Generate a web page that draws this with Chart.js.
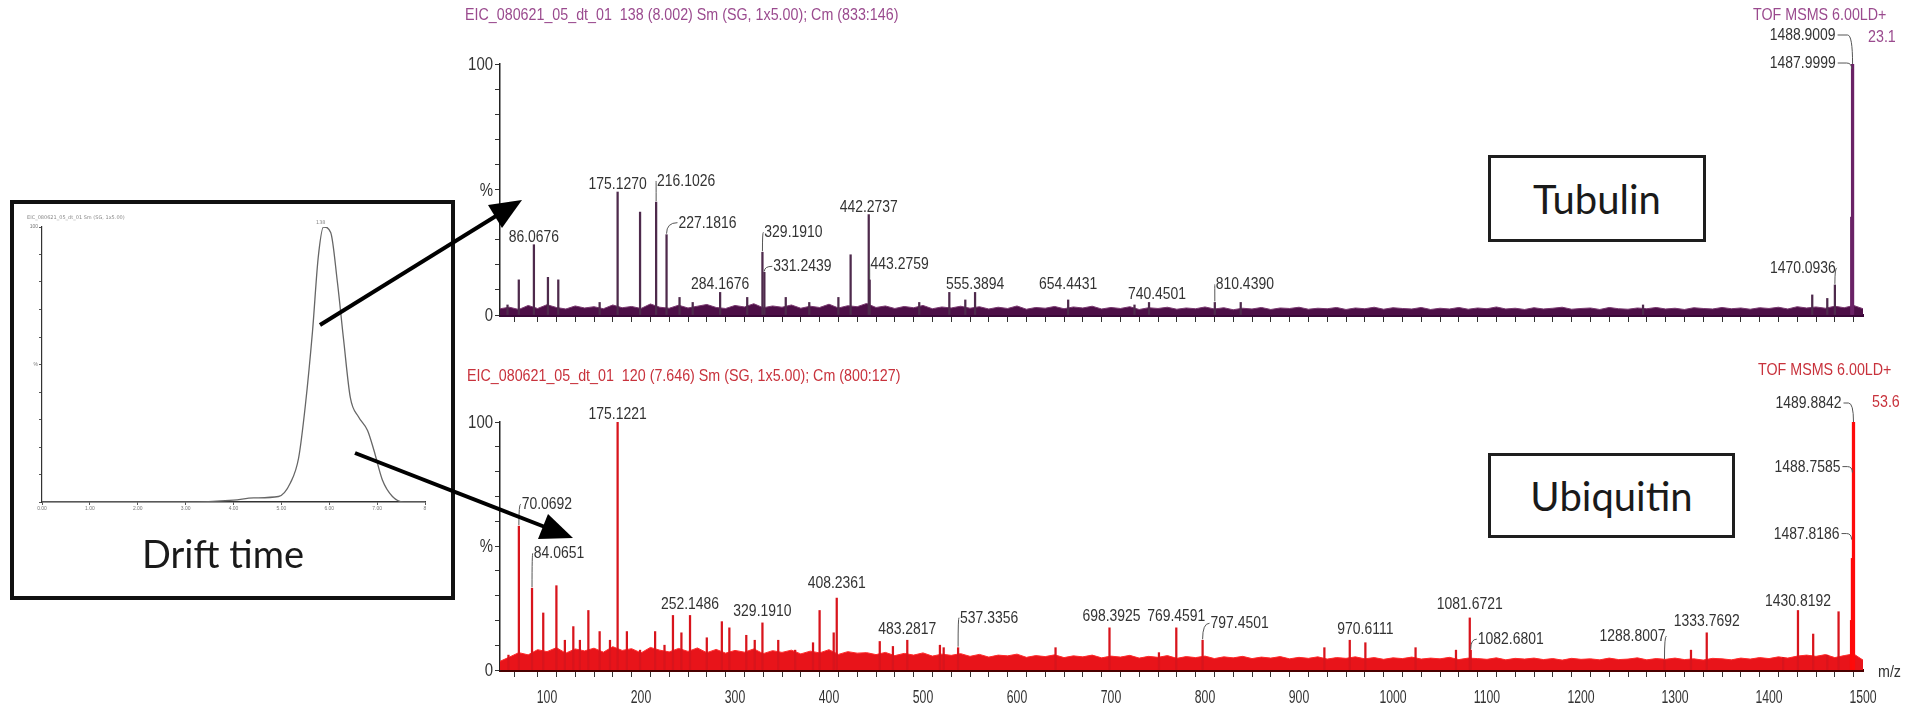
<!DOCTYPE html>
<html><head><meta charset="utf-8">
<script src="https://cdn.jsdelivr.net/npm/chart.js@4.4.0/dist/chart.umd.min.js"></script>
<style>
html,body{margin:0;padding:0;background:#fff;}
#stage{position:relative;width:1923px;height:711px;overflow:hidden;background:#fff;}
.abs{position:absolute;}
.narrow{position:absolute;font-family:'Liberation Sans',Arial,sans-serif;font-size:17px;line-height:20px;white-space:nowrap;transform:scaleX(0.84);transform-origin:0 0;}
.box{position:absolute;box-sizing:border-box;border:3px solid #1e1e1e;background:#fff;display:flex;align-items:center;justify-content:center;font-family:Lato,'Open Sans',sans-serif;font-size:40px;color:#1a1a1a;}
.tiny{position:absolute;font-family:'DejaVu Sans',sans-serif;font-size:5px;color:#888;white-space:nowrap;}
</style></head>
<body><div id="stage">
<canvas id="topChart" class="abs" style="left:0;top:0" width="1923" height="345"></canvas>
<canvas id="botChart" class="abs" style="left:0;top:345px" width="1923" height="366"></canvas>

<div class="narrow" style="left:465px;top:5px;color:#9a4a8e">EIC_080621_05_dt_01&nbsp; 138 (8.002) Sm (SG, 1x5.00); Cm (833:146)</div>
<div class="narrow" style="left:1753px;top:5px;color:#9a4a8e">TOF MSMS 6.00LD+</div>
<div class="narrow" style="left:1868px;top:27px;color:#9a4a8e">23.1</div>
<div class="narrow" style="left:467px;top:366px;color:#c8323c">EIC_080621_05_dt_01&nbsp; 120 (7.646) Sm (SG, 1x5.00); Cm (800:127)</div>
<div class="narrow" style="left:1758px;top:360px;color:#c8323c">TOF MSMS 6.00LD+</div>
<div class="narrow" style="left:1872px;top:392px;color:#c8323c">53.6</div>
<div class="narrow" style="left:1878px;top:662px;color:#333">m/z</div>

<div class="box" style="left:1488px;top:155px;width:218px;height:87px;">Tubulin</div>
<div class="box" style="left:1488px;top:453px;width:247px;height:85px;">Ubiquitin</div>

<div class="box" style="left:10px;top:200px;width:445px;height:400px;border-width:4px;border-color:#111;display:block;"></div>
<canvas id="insetChart" class="abs" style="left:14px;top:204px" width="437" height="310"></canvas>
<div class="tiny" style="left:27px;top:214px">EIC_080621_05_dt_01 Sm (SG, 1x5.00)</div>
<div class="tiny" style="left:316px;top:219px">138</div>
<div class="abs" style="left:0;top:533px;width:446px;text-align:center;font-family:Lato,'Open Sans',sans-serif;font-size:38px;color:#1a1a1a;line-height:40px;">Drift time</div>

<svg class="abs" style="left:0;top:0;pointer-events:none" width="1923" height="711">
  <line x1="320" y1="325" x2="496" y2="216" stroke="#000" stroke-width="4"/>
  <polygon points="522,200 502,228 488,205" fill="#000"/>
  <line x1="355" y1="453" x2="545" y2="527" stroke="#000" stroke-width="4"/>
  <polygon points="573,538 538,539 548,514" fill="#000"/>
</svg>
</div>
<script>
// ---------- data ----------
const mzMin = 50, mzMax = 1500;

// Tubulin (top) - labelled fragment peaks
const tubulinLabeledMz  = [86.0676,175.1270,216.1026,227.1816,284.1676,329.1910,331.2439,442.2737,443.2759,555.3894,654.4431,740.4501,810.4390,1470.0936];
const tubulinLabeledInt = [28,49,45,32,9,25,17,40,14,9,6,5,5,12];
// Tubulin unlabelled peaks
const tubulinMinorMz  = [58,70,101,112,156,199,241,255,313,354,379,410,423,496,528,545,725,838,1266,1446,1462];
const tubulinMinorInt = [4,14,15,14,5,41,7,5,7,7,5,7,24,5,9,6,4,5,4,8,6.6];
// Tubulin precursor cluster
const tubulinPrecMz  = [1487.9999,1488.9009];
const tubulinPrecInt = [39,100];
// Tubulin baseline noise, one value every 10 m/z from 50 to 1500
const tubulinNoise = [
 2.5,3.1,2.2,3.8,2.6,4.1,3.0,2.4,3.6,2.8,
 3.3,2.5,4.0,2.9,3.4,2.6,4.4,3.1,2.7,3.9,
 2.8,3.5,4.2,3.0,2.6,3.8,3.2,4.5,2.9,3.6,
 3.1,4.0,2.7,3.5,3.0,4.3,2.8,3.7,3.3,4.6,
 3.0,3.6,2.6,3.4,2.9,3.8,2.5,3.2,2.8,3.5,
 2.7,3.3,2.4,3.1,2.6,3.6,2.3,3.0,2.7,3.4,
 2.5,3.2,2.8,3.5,2.4,3.0,2.6,3.3,2.2,2.9,
 2.6,3.1,2.3,2.8,2.5,3.2,2.4,2.9,2.1,2.7,
 2.4,3.0,2.2,2.8,2.6,3.1,2.3,2.7,2.5,3.0,
 2.2,2.8,2.5,3.1,2.3,2.9,2.6,2.4,3.0,2.2,
 2.7,2.4,3.0,2.3,2.8,2.5,3.2,2.4,2.7,2.2,
 2.9,2.4,2.7,3.1,2.3,2.6,2.8,2.2,3.0,2.5,
 2.3,2.8,2.5,3.0,2.4,2.7,2.2,2.9,2.6,2.4,
 3.0,2.5,2.8,2.3,2.9,2.6,3.1,2.4,3.3,2.8,
 3.2,2.7,3.5,2.9,3.8,2.5];

// Ubiquitin (bottom)
const ubiLabeledMz  = [70.0692,84.0651,175.1221,252.1486,329.1910,408.2361,483.2817,537.3356,698.3925,769.4591,797.4501,970.6111,1081.6721,1082.6801,1288.8007,1333.7692,1430.8192];
const ubiLabeledInt = [58,33,100,22,19,29,12,9,17,17,12,11,21,8,4,15,24];
const ubiMinorMz  = [59,96,110,119,128,135,144,156,167,185,199,215,225,234,243,270,286,294,312,321,346,364,383,390,405,454,468,518,522,641,751,927,954,1024,1067,1317,1415,1447,1462,1474];
const ubiMinorInt = [6,23,34,12,17.5,12,24,15.5,12,15.5,8,15.5,10,22,15,13,19.5,17,14,12,12,8,11,24,15,11.5,9.5,10,9,9,7,9,12,9,8,8,5,14.5,6,23.5];
const ubiPrecMz  = [1487.8186,1488.7585,1489.8842];
const ubiPrecInt = [20,45,100];
const ubiNoise = [
 3.5,5.2,7.0,6.1,8.2,7.4,9.0,6.8,8.5,7.7,
 8.8,7.2,9.4,7.9,8.6,6.9,9.1,8.0,7.3,8.7,
 7.5,8.9,7.0,8.3,6.8,7.9,7.2,8.5,6.6,7.8,
 7.1,8.0,6.5,7.6,6.9,8.2,6.3,7.4,6.8,7.0,
 6.2,7.1,5.8,6.7,6.0,6.9,5.6,6.4,5.9,6.6,
 5.5,6.3,5.2,6.0,5.7,6.4,5.1,5.8,5.4,6.1,
 5.0,5.7,5.3,6.0,4.9,5.6,5.2,5.9,4.8,5.5,
 5.1,5.8,4.7,5.4,5.0,5.6,4.6,5.3,4.9,5.5,
 4.6,5.2,4.8,5.4,4.5,5.1,4.7,5.3,4.4,5.0,
 4.7,5.3,4.5,5.0,4.3,4.9,4.6,5.2,4.4,4.8,
 4.5,5.1,4.2,4.8,4.6,4.3,4.9,4.1,4.7,4.4,
 4.8,4.2,4.6,4.0,4.7,4.3,4.5,4.1,4.8,4.2,
 4.4,4.9,4.1,4.6,4.3,4.8,4.2,4.5,4.0,4.7,
 4.5,4.1,4.8,4.4,5.0,4.6,5.3,4.8,5.6,6.0,
 5.5,6.2,5.0,5.8,6.5,4.0];
const noiseStart = 50, noiseStep = 10;

// Drift-time inset
const driftTime = [0,1,2,3,4.0,4.42,4.94,5.19,5.36,5.5,5.65,5.77,5.88,6.03,6.17,6.3,6.44,6.61,6.8,6.93,7.11,7.32,7.55,8];
const driftInt  = [0,0,0,0,0.7,1.5,2,7,16,35,62,89,100,98,80,59,38,31,26,19,8,2,0,0];
const driftTickLabels = ['0.00','1.00','2.00','3.00','4.00','5.00','6.00','7.00','8'];

// y tick labels of the spectra
const yTickText = {0: '0', 50: '%', 100: '100'};

// ---------- label layout (pixel offsets only) ----------
const tubulinLabelLayout = {
 '216.1026': {dx:30, dy:-13, lead:1},
 '227.1816': {dx:41, dy:-4, lead:1},
 '329.1910': {dx:31, dy:-12, lead:1},
 '331.2439': {dx:38, dy:2, lead:1},
 '443.2759': {dx:30, dy:-8, lead:1},
 '654.4431': {dy:-8},
 '740.4501': {dx:8},
 '810.4390': {dx:30, dy:-10, lead:1},
 '1470.0936': {dx:-32, dy:-9, lead:1},
 '1487.9999': {dx:-16, align:'right', atValue:98.4, stick:'side'},
 '1488.9009': {dx:-17, dy:-21, align:'right', stick:'top'}
};
const ubiLabelLayout = {
 '70.0692': {dx:28, dy:-14, lead:1},
 '84.0651': {dx:27, dy:-27, lead:1},
 '252.1486': {dy:-3}, '329.1910': {dy:-4}, '408.2361': {dy:-7}, '483.2817': {dy:-3},
 '537.3356': {dx:31, dy:-22, lead:1},
 '698.3925': {dx:2, dy:-4}, '769.4591': {dy:-4},
 '797.4501': {dx:37, dy:-9, lead:1},
 '970.6111': {dy:-6}, '1081.6721': {dy:-6},
 '1082.6801': {dx:40, dy:-3, lead:1},
 '1288.8007': {dx:-32, dy:-16, lead:1},
 '1333.7692': {dy:-4}, '1430.8192': {dy:-1},
 '1487.8186': {dx:-12, align:'right', atValue:53, stick:'side'},
 '1488.7585': {dx:-12, align:'right', atValue:80, stick:'side'},
 '1489.8842': {dx:-12, dy:-11, align:'right', stick:'top'}
};

const SANS = "'Liberation Sans',Arial,sans-serif";

// draw horizontally condensed text
function condText(ctx, text, x, y, align, sx) {
  ctx.save();
  ctx.translate(x, y);
  ctx.scale(sx, 1);
  ctx.textAlign = align;
  ctx.fillText(text, 0, 0);
  ctx.restore();
}

const peakLabelPlugin = {
  id: 'peakLabels',
  afterDatasetsDraw(chart, _a, o) {
    if (!o || !o.items) return;
    const ctx = chart.ctx, xs = chart.scales.x, ys = chart.scales.y;
    const sx = o.squeeze;
    ctx.save();
    ctx.font = o.font;
    ctx.fillStyle = o.color;
    ctx.strokeStyle = o.leader;
    ctx.lineWidth = 1;
    ctx.textBaseline = 'alphabetic';
    o.items.forEach(it => {
      const px = xs.getPixelForValue(it.mz), py = ys.getPixelForValue(it.value);
      const L = o.layout[it.text] || {};
      const align = L.align || 'center';
      const w = ctx.measureText(it.text).width * sx;
      const ty = (L.atValue !== undefined) ? ys.getPixelForValue(L.atValue) : py - 3 + (L.dy || 0);
      const tx = px + (L.dx || 0);
      condText(ctx, it.text, tx, ty, align, sx);
      ctx.beginPath();
      if (L.stick) {
        const x0 = tx + 2, y0 = ty - 5;
        const yT = L.stick === 'top' ? py : ty + 1;
        ctx.moveTo(x0, y0); ctx.lineTo(px - 5, y0);
        ctx.quadraticCurveTo(px, y0, px, Math.max(yT, y0 + 5));
        ctx.stroke();
      } else if (L.lead) {
        const left = align === 'center' ? tx - w / 2 : (align === 'right' ? tx - w : tx);
        const ax = (L.dx || 0) >= 0 ? left - 1 : left + w + 1;
        const ay = ty - 5;
        ctx.moveTo(px, py - 1); ctx.quadraticCurveTo(px, ay, ax, ay);
        ctx.stroke();
      }
    });
    ctx.restore();
  }
};

// axis labels drawn condensed at the library's tick positions
const condTickPlugin = {
  id: 'condTicks',
  afterDraw(chart, _a, o) {
    const ctx = chart.ctx, xs = chart.scales.x, ys = chart.scales.y, ca = chart.chartArea;
    ctx.save();
    ctx.fillStyle = '#333';
    ctx.textBaseline = 'alphabetic';
    if (o.xLabels) {
      ctx.font = '18px ' + SANS;
      xs.ticks.forEach(t => {
        if (t.value % 100 === 0) condText(ctx, String(t.value), xs.getPixelForValue(t.value), ca.bottom + 33, 'center', 0.68);
      });
    }
    ctx.font = '18px ' + SANS;
    ys.ticks.forEach(t => {
      const s = yTickText[t.value];
      if (s !== undefined) condText(ctx, s, ca.left - 7, ys.getPixelForValue(t.value) + 6, 'right', 0.83);
    });
    ctx.restore();
  }
};

function pts(mz, v) { return mz.map((m, i) => ({x: m, y: v[i]})); }
function noisePts(arr) { return arr.map((v, i) => ({x: noiseStart + i * noiseStep, y: v})); }
function labelItems(mzs, ints) { return mzs.map((m, i) => ({mz: m, value: ints[i], text: m.toFixed(4)})); }

function spectrum(id, cfg) {
  return new Chart(document.getElementById(id), {
    type: 'bar',
    data: { datasets: [
      { type: 'line', data: noisePts(cfg.noise), borderColor: cfg.bandLine, backgroundColor: cfg.band,
        fill: 'origin', pointRadius: 0, borderWidth: 1, tension: 0, order: 3 },
      { data: pts(cfg.minorMz, cfg.minorInt), backgroundColor: cfg.stick, barThickness: 1.6, grouped: false, order: 2 },
      { data: pts(cfg.labMz, cfg.labInt), backgroundColor: cfg.stick, barThickness: 1.6, grouped: false, order: 1 },
      { data: pts(cfg.precMz, cfg.precInt), backgroundColor: cfg.prec, barThickness: 2.6, grouped: false, order: 0 }
    ]},
    options: {
      responsive: false, animation: false, events: [],
      layout: { padding: { top: cfg.padTop, right: 60, left: 0, bottom: 0 } },
      plugins: {
        legend: { display: false }, tooltip: { enabled: false },
        peakLabels: { items: labelItems(cfg.labMz.concat(cfg.precMz), cfg.labInt.concat(cfg.precInt)),
          layout: cfg.layout, font: "17px " + SANS, squeeze: 0.82, color: '#333', leader: '#555' },
        condTicks: { xLabels: cfg.xLabels }
      },
      scales: {
        x: { type: 'linear', min: mzMin, max: mzMax, offset: false,
          afterFit: s => { s.height = cfg.xH; },
          ticks: { stepSize: 20, autoSkip: false, maxRotation: 0, padding: 9, color: 'rgba(0,0,0,0)',
            font: { size: 10 }, callback: () => '' },
          grid: { drawOnChartArea: false, drawTicks: true, tickLength: 7, color: '#333' },
          border: { display: true, color: cfg.axis, width: 3 } },
        y: { min: 0, max: 100,
          afterFit: s => { s.width = 500; },
          ticks: { stepSize: 10, autoSkip: false, padding: 3, color: 'rgba(0,0,0,0)',
            font: { size: 10 }, callback: () => '' },
          grid: { drawOnChartArea: false, drawTicks: true, tickLength: 5, color: '#333' },
          border: { display: true, color: '#222', width: 1.5 } }
      }
    },
    plugins: [peakLabelPlugin, condTickPlugin]
  });
}

spectrum('topChart', {
  noise: tubulinNoise, minorMz: tubulinMinorMz, minorInt: tubulinMinorInt,
  labMz: tubulinLabeledMz, labInt: tubulinLabeledInt, precMz: tubulinPrecMz, precInt: tubulinPrecInt,
  band: '#4d0f47', bandLine: '#7a3a70', stick: '#4e2a4c', prec: '#6a2266', axis: '#3a0838',
  padTop: 64, xH: 30, xLabels: false, layout: tubulinLabelLayout
});
spectrum('botChart', {
  noise: ubiNoise, minorMz: ubiMinorMz, minorInt: ubiMinorInt,
  labMz: ubiLabeledMz, labInt: ubiLabeledInt, precMz: ubiPrecMz, precInt: ubiPrecInt,
  band: '#e8141a', bandLine: '#ff2a2a', stick: '#d8141c', prec: '#ff0a0a', axis: '#4a0000',
  padTop: 77, xH: 41, xLabels: true, layout: ubiLabelLayout
});

new Chart(document.getElementById('insetChart'), {
  type: 'line',
  data: { datasets: [{ data: pts(driftTime, driftInt), borderColor: '#666', borderWidth: 1.3,
    pointRadius: 0, fill: false, cubicInterpolationMode: 'monotone' }] },
  options: {
    responsive: false, animation: false, events: [],
    layout: { padding: { top: 23, right: 26, left: 0, bottom: 0 } },
    plugins: { legend: { display: false }, tooltip: { enabled: false } },
    scales: {
      x: { type: 'linear', min: 0, max: 8, afterFit: s => { s.height = 12; },
        ticks: { stepSize: 1, padding: 1, color: '#777', font: { size: 5 }, maxRotation: 0,
          callback: (v, i) => driftTickLabels[i] !== undefined ? driftTickLabels[i] : '' },
        grid: { drawOnChartArea: false, tickLength: 3, color: '#555' },
        border: { color: '#333', width: 1.5 } },
      y: { min: 0, max: 100, afterFit: s => { s.width = 28; },
        ticks: { stepSize: 10, padding: 1, color: '#777', font: { size: 5 },
          callback: v => v === 100 ? '100' : (v === 50 ? '%' : '') },
        grid: { drawOnChartArea: false, tickLength: 3, color: '#555' },
        border: { color: '#333', width: 1.2 } }
    }
  }
});
</script>
</body></html>
